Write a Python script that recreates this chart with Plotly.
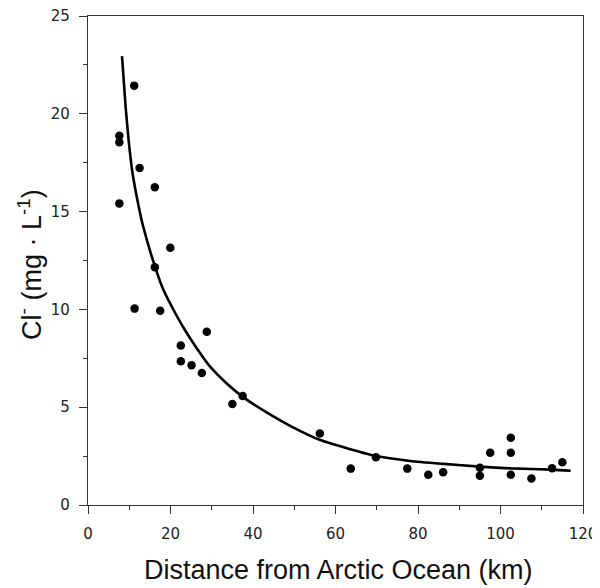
import plotly.graph_objects as go

# Observed chloride concentrations
distance_km = [7.6, 7.6, 7.6, 11.2, 11.3, 12.5, 16.2, 16.2, 17.5, 19.95, 22.5, 22.5,
               25.1, 27.6, 28.8, 35.0, 37.5, 56.2, 63.7, 69.8, 77.4, 82.5, 86.1,
               95.0, 95.0, 97.5, 102.5, 102.5, 102.5, 107.5, 112.5, 115.0]
chloride = [18.88, 18.54, 15.42, 21.44, 10.04, 17.23, 16.24, 12.15, 9.93, 13.15, 8.15, 7.35,
            7.14, 6.75, 8.86, 5.16, 5.57, 3.66, 1.86, 2.44, 1.86, 1.55, 1.67,
            1.91, 1.50, 2.67, 3.44, 2.67, 1.55, 1.36, 1.88, 2.18]

# Fitted curve
fit_x = [8.24, 9.12, 9.85, 10.8, 12.3, 13.3, 16.3, 18.3, 20.75, 23.2, 26.4, 29.6,
         33.7, 37.7, 43.4, 49.0, 56.3, 63.6, 69.8, 78.1, 86.2, 95.0, 102.5, 112.5, 117.0]
fit_y = [22.95, 20.36, 18.66, 16.96, 15.25, 14.3, 12.15, 10.99, 9.97, 9.05, 8.0, 7.07,
         6.2, 5.5, 4.72, 4.05, 3.32, 2.85, 2.50, 2.25, 2.10, 1.96, 1.87, 1.81, 1.75]

x_ticks = [0, 20, 40, 60, 80, 100, 120]
y_ticks = [0, 5, 10, 15, 20, 25]

TITLE_FONT = "Liberation Sans, Arial, Helvetica, sans-serif"
TICK_FONT = "DejaVu Sans, Verdana, sans-serif"
AX = "#333333"

fig = go.Figure()
fig.add_trace(go.Scatter(x=fit_x, y=fit_y, mode="lines",
                         line=dict(color="black", width=2.6, shape="spline", smoothing=0.6),
                         hoverinfo="skip", showlegend=False))
fig.add_trace(go.Scatter(x=distance_km, y=chloride, mode="markers",
                         marker=dict(color="black", size=8.5), showlegend=False))

axis_common = dict(showgrid=False, zeroline=False, showline=True, linecolor=AX, linewidth=1.3,
                   mirror=True, ticks="outside", ticklen=8, tickwidth=1.2, tickcolor=AX,
                   automargin=False, ticklabeloverflow="allow",
                   tickfont=dict(family=TICK_FONT, size=15, color="#222222"))

fig.update_xaxes(range=[0, 120], tickvals=x_ticks, ticktext=[str(v) for v in x_ticks],
                 minor=dict(dtick=10, tick0=0, ticks="outside", ticklen=4, tickwidth=1, tickcolor=AX),
                 ticklabelstandoff=7, **axis_common)
fig.update_yaxes(range=[0, 25], tickvals=y_ticks, ticktext=[str(v) for v in y_ticks],
                 minor=dict(dtick=2.5, tick0=0, ticks="outside", ticklen=4, tickwidth=1, tickcolor=AX),
                 ticklabelstandoff=6, **axis_common)

# The page body adds an 8px margin, so the figure is sized to fit the window.
fig.update_layout(width=592, height=580, autosize=False,
                  margin=dict(l=80, r=17, t=8, b=83),
                  paper_bgcolor="white", plot_bgcolor="white",
                  annotations=[
                      dict(text="Distance from Arctic Ocean (km)", xref="paper", yref="paper",
                           x=0.5, y=0, xanchor="center", yanchor="middle",
                           xshift=3, yshift=-65, showarrow=False,
                           font=dict(family=TITLE_FONT, size=27, color="#111111")),
                      dict(text="Cl<sup>-</sup> (mg · L<sup>-1</sup>)", xref="paper", yref="paper",
                           x=0, y=0.491, xanchor="center", yanchor="middle", textangle=-90,
                           xshift=-58, showarrow=False,
                           font=dict(family=TITLE_FONT, size=27, color="#111111")),
                  ])

fig.write_html("out.html")
